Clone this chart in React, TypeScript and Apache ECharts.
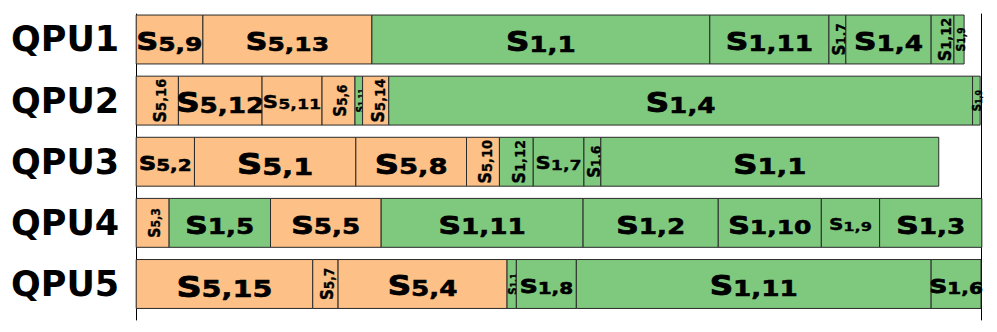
import React, { useEffect, useRef } from 'react';
import * as echarts from 'echarts';

// ---------- data ----------
const qpuNames = ['QPU1', 'QPU2', 'QPU3', 'QPU4', 'QPU5'];

const qpu1Tasks = ['S5,9', 'S5,13', 'S1,1', 'S1,11', 'S1,7', 'S1,4', 'S1,12', 'S1,9'];
const qpu1Durations = [7.9, 20.0, 40.0, 14.1, 2.0, 10.1, 2.7, 1.2];

const qpu2Tasks = ['S5,16', 'S5,12', 'S5,11', 'S5,6', 'S1,11', 'S5,14', 'S1,4', 'S1,9'];
const qpu2Durations = [5.0, 9.9, 7.1, 3.9, 0.9, 3.1, 69.1, 0.9];

const qpu3Tasks = ['S5,2', 'S5,1', 'S5,8', 'S5,10', 'S1,12', 'S1,7', 'S1,6', 'S1,1'];
const qpu3Durations = [6.9, 19.1, 13.1, 3.9, 4.0, 6.0, 2.0, 40.0];

const qpu4Tasks = ['S5,3', 'S1,5', 'S5,5', 'S1,11', 'S1,2', 'S1,10', 'S1,9', 'S1,3'];
const qpu4Durations = [3.9, 12.0, 13.1, 23.9, 16.0, 12.2, 6.9, 12.1];

const qpu5Tasks = ['S5,15', 'S5,7', 'S5,4', 'S1,1', 'S1,8', 'S1,11', 'S1,6'];
const qpu5Durations = [20.9, 3.0, 20.0, 1.1, 7.1, 42.0, 5.9];

// ---------- label styles (font sizes per cell) ----------
const qpu1LabelSizes = [24, 24, 26, 25, 15, 25, 16, 11];
const qpu2LabelSizes = [16, 26, 17, 15, 9, 16, 26, 10];
const qpu3LabelSizes = [19, 28, 27, 16, 16, 17, 15, 27];
const qpu4LabelSizes = [14, 25, 25, 25, 25, 24, 16, 25];
const qpu5LabelSizes = [28, 15, 26, 10, 20, 26, 20];

const rowTasks = [qpu1Tasks, qpu2Tasks, qpu3Tasks, qpu4Tasks, qpu5Tasks];
const rowDurations = [qpu1Durations, qpu2Durations, qpu3Durations, qpu4Durations, qpu5Durations];
const rowLabelSizes = [qpu1LabelSizes, qpu2LabelSizes, qpu3LabelSizes, qpu4LabelSizes, qpu5LabelSizes];

const ORANGE = '#fdc086';
const GREEN = '#7fc97f';
const FONT = 'DejaVu Sans';

export default function App() {
  const ref = useRef<HTMLDivElement>(null);

  useEffect(() => {
    if (!ref.current) return;
    const chart = echarts.init(ref.current, undefined, { renderer: 'svg' });

    const data: number[][] = [];
    const meta: { name: string; size: number }[] = [];
    rowTasks.forEach((tasks, r) => {
      let start = 0;
      tasks.forEach((name, i) => {
        const end = start + rowDurations[r][i];
        data.push([r, start, end]);
        meta.push({ name, size: rowLabelSizes[r][i] });
        start = end;
      });
    });

    const option: any = {
      animation: false,
      grid: { left: 128, right: 8, top: 6, bottom: 4 },
      xAxis: {
        type: 'value',
        min: 0,
        max: 100,
        axisLine: { show: false },
        axisTick: { show: false },
        axisLabel: { show: false },
        splitLine: { show: false },
      },
      yAxis: [
        {
          type: 'value',
          inverse: true,
          min: -0.417,
          max: 4.589,
          axisLine: { show: true, lineStyle: { color: '#000', width: 1 } },
          axisTick: { show: false },
          splitLine: { show: false },
          axisLabel: {
            customValues: [0, 1, 2, 3, 4],
            formatter: (v: number) => qpuNames[Math.round(v)] ?? '',
            fontSize: 35,
            fontWeight: 'bold',
            fontFamily: FONT,
            color: '#000',
            margin: 17,
          },
        },
        {
          type: 'value',
          position: 'right',
          inverse: true,
          min: -0.417,
          max: 4.589,
          axisLine: { show: true, lineStyle: { color: '#000', width: 1 } },
          axisTick: { show: false },
          splitLine: { show: false },
          axisLabel: { show: false },
        },
      ],
      series: [
        {
          type: 'custom',
          yAxisIndex: 0,
          data,
          renderItem: (params: any, api: any) => {
            const m = meta[params.dataIndex];
            const r = api.value(0);
            const s = api.value(1);
            const e = api.value(2);
            const p0 = api.coord([s, r - 0.4]);
            const p1 = api.coord([e, r + 0.4]);
            const x = p0[0];
            const y = Math.min(p0[1], p1[1]);
            const w = p1[0] - p0[0];
            const h = Math.abs(p1[1] - p0[1]);
            const vertical = w < 45;
            const letter = m.name[0];
            const sub = m.name.slice(1);
            const fs = m.size;
            const fs2 = Math.round(fs * 0.82);
            const color = sub[0] === '5' ? ORANGE : GREEN;
            const sw = fs > 18 ? 0.8 : 0.4;
            return {
              type: 'group',
              children: [
                {
                  type: 'rect',
                  shape: { x, y, width: w, height: h },
                  style: { fill: color, stroke: '#2a2a2a', lineWidth: 1 },
                },
                {
                  type: 'text',
                  x: x + w / 2,
                  y: y + h / 2,
                  rotation: vertical ? Math.PI / 2 : 0,
                  scaleX: vertical ? 1 : 1.25,
                  scaleY: vertical ? 1.15 : 1,
                  style: {
                    text: `{a|${letter}}{b|${sub}}`,
                    align: 'center',
                    verticalAlign: 'middle',
                    fill: '#000',
                    rich: {
                      a: {
                        fontSize: fs,
                        fontWeight: 'bold',
                        fontFamily: FONT,
                        fill: '#000',
                        stroke: '#000',
                        lineWidth: sw,
                        verticalAlign: 'bottom',
                        lineHeight: fs * 1.2,
                      },
                      b: {
                        fontSize: fs2,
                        fontWeight: 'bold',
                        fontFamily: FONT,
                        fill: '#000',
                        stroke: '#000',
                        lineWidth: sw * 0.7,
                        verticalAlign: 'bottom',
                        lineHeight: fs2 * 1.2,
                      },
                    },
                  },
                },
              ],
            };
          },
        },
      ],
    };

    chart.setOption(option);
    return () => chart.dispose();
  }, []);

  return <div ref={ref} style={{ width: 981, height: 316 }} />;
}
